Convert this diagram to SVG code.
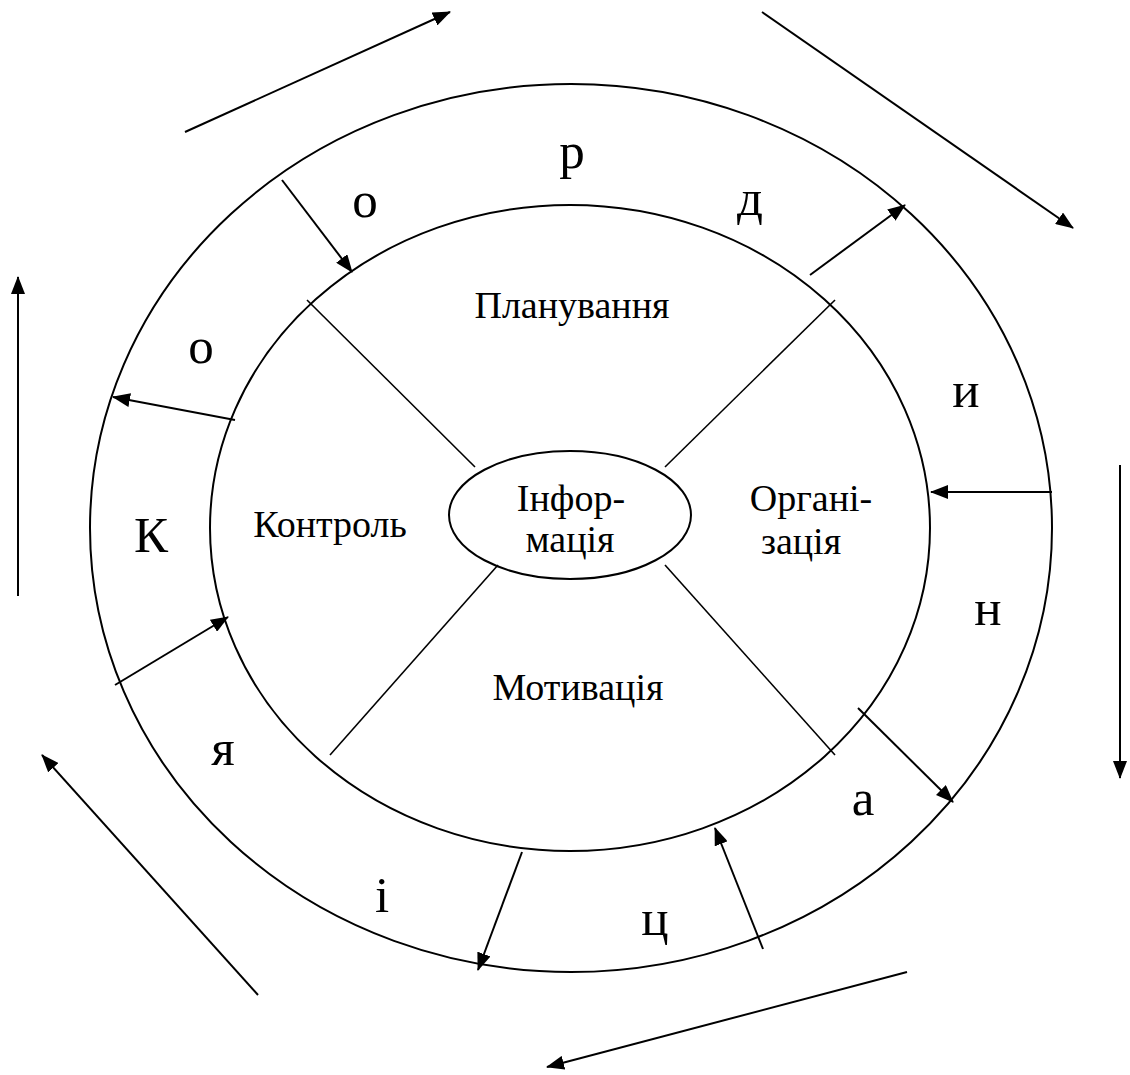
<svg xmlns="http://www.w3.org/2000/svg" width="1130" height="1075" viewBox="0 0 1130 1075">
  <style>
    .ring { fill: none; stroke: #000; stroke-width: 2; }
    .spoke { stroke: #000; stroke-width: 1.6; fill: none; }
    .arrow { stroke: #000; stroke-width: 2; fill: none; marker-end: url(#head); }
    .big { font-family: "Liberation Serif", "Times New Roman", serif; font-size: 51px; fill: #000; text-anchor: middle; }
    .lbl { font-family: "Liberation Serif", "Times New Roman", serif; font-size: 38px; fill: #000; text-anchor: middle; }
  </style>
  <defs>
    <marker id="head" markerUnits="userSpaceOnUse" markerWidth="18" markerHeight="14" viewBox="0 0 18 14" refX="17" refY="7" orient="auto">
      <path d="M0,0 L18,7 L0,14 z" fill="#000"/>
    </marker>
  </defs>
  <rect width="1130" height="1075" fill="#fff"/>

  <!-- rings -->
  <g id="outer-ring">
    <ellipse class="ring" cx="571" cy="528" rx="481" ry="444"/>
  </g>
  <g id="inner-ring">
    <ellipse class="ring" cx="570" cy="528" rx="360" ry="323"/>
  </g>

  <!-- spokes dividing the inner ring into four functions -->
  <g id="spokes">
    <line class="spoke" x1="307" y1="300" x2="475" y2="467"/>
    <line class="spoke" x1="835" y1="300" x2="665" y2="467"/>
    <line class="spoke" x1="498" y1="565" x2="330" y2="755"/>
    <line class="spoke" x1="665" y1="565" x2="835" y2="755"/>
  </g>

  <!-- centre node -->
  <g id="node-info">
    <ellipse class="ring" cx="570" cy="515" rx="121" ry="64"/>
    <text class="lbl" x="571" y="511">Інфор-</text>
    <text class="lbl" x="570" y="552">мація</text>
  </g>

  <g id="node-planning">
    <text class="lbl" x="572" y="318">Планування</text>
  </g>
  <g id="node-organisation">
    <text class="lbl" x="811" y="511">Органі-</text>
    <text class="lbl" x="801" y="554">зація</text>
  </g>
  <g id="node-motivation">
    <text class="lbl" x="578" y="700">Мотивація</text>
  </g>
  <g id="node-control">
    <text class="lbl" x="330" y="537">Контроль</text>
  </g>

  <!-- letters of «Координація» spread around the outer band -->
  <g id="band-letters">
    <text class="big" x="151" y="552">К</text>
    <text class="big" x="201" y="363">о</text>
    <text class="big" x="365" y="217">о</text>
    <text class="big" x="572" y="168">р</text>
    <text class="big" x="750" y="215">д</text>
    <text class="big" x="966" y="407">и</text>
    <text class="big" x="988" y="625">н</text>
    <text class="big" x="863" y="815">а</text>
    <text class="big" x="655" y="935">ц</text>
    <text class="big" x="382" y="912">і</text>
    <text class="big" x="223" y="765">я</text>
  </g>

  <!-- connectors -->
  <g id="connectors">
    <!-- circulation arrows outside the outer ring -->
    <line class="arrow" x1="185" y1="132" x2="450" y2="12"/>
    <line class="arrow" x1="762" y1="12" x2="1073" y2="228"/>
    <line class="arrow" x1="1120" y1="465" x2="1120" y2="778"/>
    <line class="arrow" x1="907" y1="972" x2="547" y2="1067"/>
    <line class="arrow" x1="258" y1="995" x2="42" y2="755"/>
    <line class="arrow" x1="18" y1="596" x2="18" y2="277"/>

    <!-- exchange arrows across the band -->
    <line class="arrow" x1="282" y1="180" x2="352" y2="272"/>
    <line class="arrow" x1="810" y1="275" x2="905" y2="205"/>
    <line class="arrow" x1="1052" y1="492" x2="931" y2="492"/>
    <line class="arrow" x1="858" y1="708" x2="953" y2="802"/>
    <line class="arrow" x1="763" y1="949" x2="715" y2="828"/>
    <line class="arrow" x1="522" y1="852" x2="478" y2="970"/>
    <line class="arrow" x1="115" y1="685" x2="228" y2="617"/>
    <line class="arrow" x1="235" y1="420" x2="113" y2="397"/>
  </g>
</svg>
